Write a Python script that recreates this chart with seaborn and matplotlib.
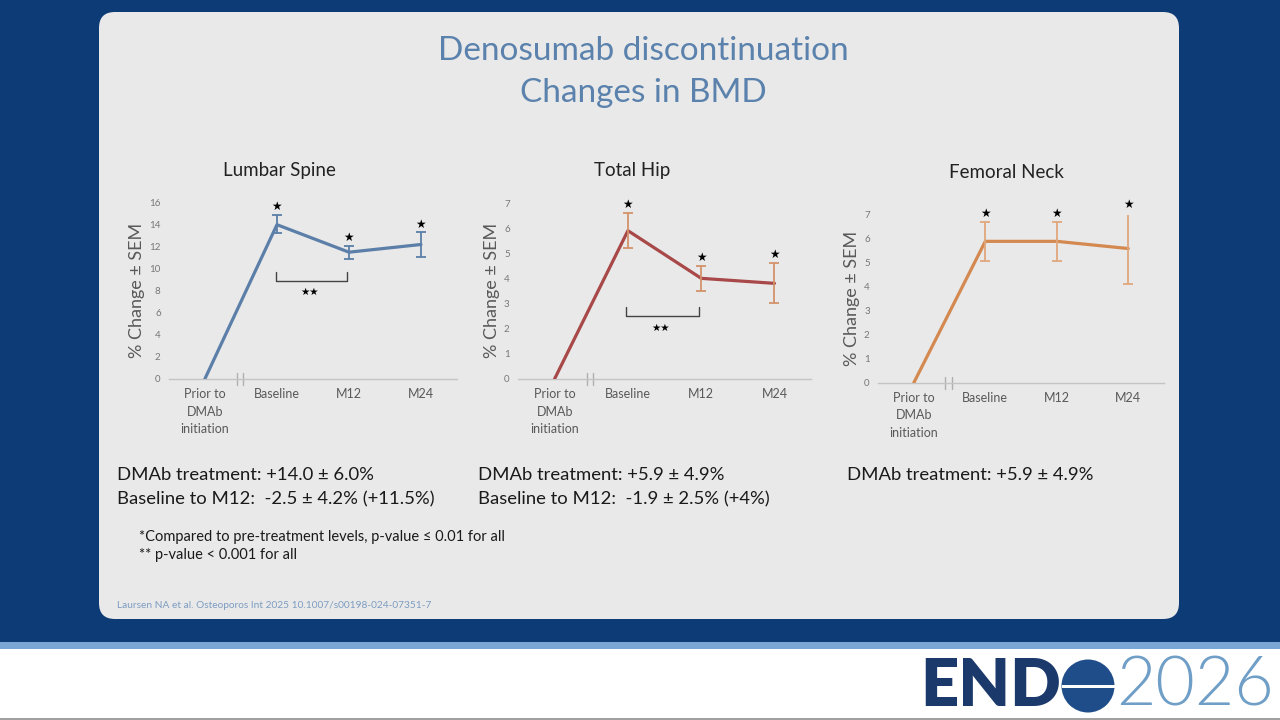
import matplotlib
matplotlib.use("Agg")
import matplotlib.pyplot as plt
from matplotlib.patches import FancyBboxPatch, Rectangle, Circle
import seaborn as sns
import pandas as pd

# data
timepoints = ["Prior to\nDMAb\ninitiation", "Baseline", "M12", "M24"]

spine_mean = [0, 14.0, 11.5, 12.2]
spine_low = [None, 13.2, 10.9, 11.1]
spine_high = [None, 14.9, 12.1, 13.3]

hip_mean = [0, 5.9, 4.0, 3.8]
hip_low = [None, 5.2, 3.5, 3.0]
hip_high = [None, 6.6, 4.5, 4.6]

neck_mean = [0, 5.9, 5.9, 5.6]
neck_low = [None, 5.1, 5.1, 4.1]
neck_high = [None, 6.7, 6.7, 7.1]

sns.set_style("white")
plt.rcParams["font.family"] = ["Lato", "DejaVu Sans"]

fig = plt.figure(figsize=(12.8, 7.2), dpi=100)
fig.patch.set_facecolor("#0d3b76")

def fy(px):
    # pixel row (from top) -> figure fraction
    return 1 - px / 720

# slide background pieces (inches)
def bg(patch):
    patch.set_zorder(-5)
    fig.patches.append(patch)

bg(Rectangle((0, 0), 12.8, 0.785, transform=fig.dpi_scale_trans,
             facecolor="#7aa6d6", edgecolor="none"))
bg(Rectangle((0, 0), 12.8, 0.715, transform=fig.dpi_scale_trans,
             facecolor="white", edgecolor="none"))
bg(Rectangle((0, 0), 12.8, 0.02, transform=fig.dpi_scale_trans,
             facecolor="#a0a0a0", edgecolor="none"))
bg(FancyBboxPatch((0.99, 1.01), 10.8, 6.07,
                  boxstyle="round,pad=0,rounding_size=0.16",
                  transform=fig.dpi_scale_trans,
                  facecolor="#e9e9e9", edgecolor="none"))

fig.text(0.5025, fy(60), "Denosumab discontinuation", ha="center", va="baseline",
         fontsize=24, color="#5b82ad")
fig.text(0.5025, fy(102), "Changes in BMD", ha="center", va="baseline",
         fontsize=24, color="#5b82ad")

panels = [
    dict(title="Lumbar Spine", mean=spine_mean, low=spine_low, high=spine_high,
         line="#5b7fa8", err="#5b7fa8", ymax=16, step=2,
         rect=[0.132, 0.474, 0.225, 0.2445], bracket=(9.7, 8.9, 7.9),
         tpos=(279, 176)),
    dict(title="Total Hip", mean=hip_mean, low=hip_low, high=hip_high,
         line="#a84848", err="#d3926a", ymax=7, step=1,
         rect=[0.4047, 0.474, 0.229, 0.244], bracket=(2.87, 2.5, 2.03),
         tpos=(632, 176)),
    dict(title="Femoral Neck", mean=neck_mean, low=neck_low, high=neck_high,
         line="#d3894f", err="#e0a77c", ymax=7, step=1,
         rect=[0.686, 0.4685, 0.2234, 0.2329], bracket=None,
         tpos=(1006, 178)),
]

xpos = [0.5, 1.5, 2.5, 3.5]

for p in panels:
    ax = fig.add_axes(p["rect"])
    ax.set_facecolor("none")
    df = pd.DataFrame({"x": xpos, "y": p["mean"]})
    sns.lineplot(data=df, x="x", y="y", ax=ax, color=p["line"], lw=2.3, zorder=3)

    for i in range(1, 4):
        m = p["mean"][i]
        lo, hi = p["low"][i], p["high"][i]
        ax.errorbar(xpos[i], m, yerr=[[m - lo], [hi - m]], fmt="none",
                    ecolor=p["err"], elinewidth=1.3, capsize=3.5, capthick=1.3,
                    zorder=4)
        ax.annotate("★", (xpos[i], hi), xytext=(0, 6), textcoords="offset points",
                    ha="center", va="center", fontsize=8.5, color="black",
                    family=["DejaVu Sans"], annotation_clip=False)

    if p["bracket"] is not None:
        top, bot, star_y = p["bracket"]
        ax.plot([1.48, 1.48, 2.47, 2.47], [top, bot, bot, top], color="#444444",
                lw=1.0, clip_on=False)
        ax.text(1.95, star_y, "★★", ha="center", va="center", fontsize=7.5,
                family=["DejaVu Sans"], color="black")

    ax.set_xlim(0, 4)
    ax.set_ylim(0, p["ymax"])
    ax.set_yticks(range(0, p["ymax"] + 1, p["step"]))
    ax.set_xticks([0, 1, 2, 3, 4])
    ax.set_xticklabels([])
    ax.tick_params(axis="y", length=0, labelsize=7, labelcolor="#777777", pad=6)
    ax.tick_params(axis="x", length=3, color="#c4c4c4", width=0.8, direction="out")
    for lab, x in zip(timepoints, xpos):
        ax.text(x, -0.055, lab, transform=ax.get_xaxis_transform(), ha="center",
                va="top", fontsize=9, color="#595959", linespacing=1.55)

    for s in ["top", "right", "left"]:
        ax.spines[s].set_visible(False)
    ax.spines["bottom"].set_color("#c4c4c4")
    ax.spines["bottom"].set_linewidth(1.0)
    for bx in (0.94, 1.03):
        ax.plot([bx, bx], [-0.035, 0.035], transform=ax.get_xaxis_transform(),
                color="#b0b0b0", lw=1.0, clip_on=False)

    ax.set_xlabel("")
    ax.set_ylabel("% Change ± SEM", fontsize=13, color="#595959", labelpad=3)
    tx, ty = p["tpos"]
    fig.text(tx / 1280, fy(ty), p["title"], ha="center", va="baseline",
             fontsize=13.5, color="#222222")

# summary text
txt = dict(fontsize=13.3, color="#1a1a1a", va="baseline", ha="left")
fig.text(117 / 1280, fy(480), "DMAb treatment: +14.0 ± 6.0%", **txt)
fig.text(117 / 1280, fy(504), "Baseline to M12:  -2.5 ± 4.2% (+11.5%)", **txt)
fig.text(478 / 1280, fy(480), "DMAb treatment: +5.9 ± 4.9%", **txt)
fig.text(478 / 1280, fy(504), "Baseline to M12:  -1.9 ± 2.5% (+4%)", **txt)
fig.text(847 / 1280, fy(480), "DMAb treatment: +5.9 ± 4.9%", **txt)

fig.text(139 / 1280, fy(541),
         "*Compared to pre-treatment levels, p-value ≤ 0.01 for all",
         fontsize=10.5, color="#1a1a1a", va="baseline")
fig.text(139 / 1280, fy(559), "** p-value < 0.001 for all",
         fontsize=10.5, color="#1a1a1a", va="baseline")
fig.text(117 / 1280, fy(608),
         "Laursen NA et al. Osteoporos Int 2025 10.1007/s00198-024-07351-7",
         fontsize=7.3, color="#7c9cc0", va="baseline")

# ENDO 2026 logo
fig.text(920 / 1280, fy(686), "END", fontsize=48, fontweight="heavy",
         color="#1b3a6b", va="center", ha="left")
fig.patches.append(Circle((10.88, 0.34), 0.265, transform=fig.dpi_scale_trans,
                          facecolor="#1f4d8a", edgecolor="none"))
fig.patches.append(Rectangle((10.615, 0.325), 0.53, 0.03, transform=fig.dpi_scale_trans,
                             facecolor="white", edgecolor="none"))
fig.text(1116 / 1280, fy(686), "2026", fontsize=49, fontweight=300,
         color="#6f9ec6", va="center", ha="left")

fig.savefig("out.png", dpi=100, facecolor=fig.get_facecolor())
